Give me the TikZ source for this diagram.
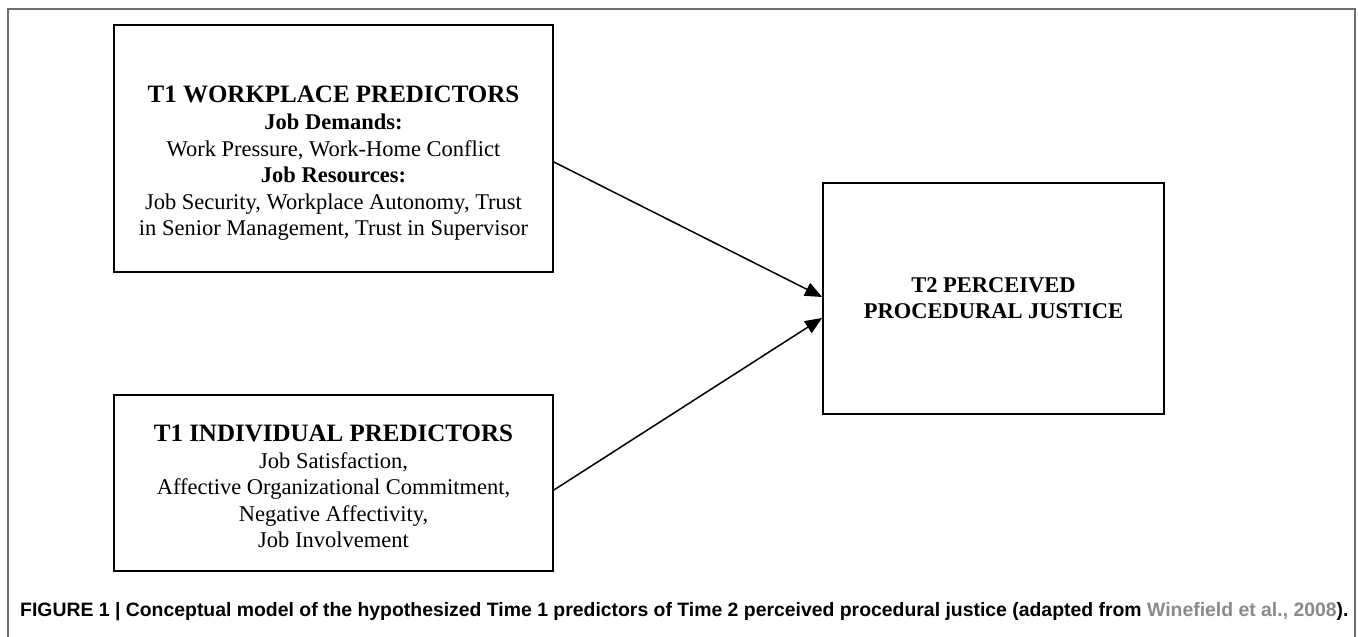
\documentclass[tikz,border=0pt]{standalone}
\usepackage{fontspec}
\setmainfont{Liberation Serif}
\newfontfamily\capfont{Liberation Sans}
\usetikzlibrary{arrows.meta}
\definecolor{framegray}{HTML}{6E6E6E}
\definecolor{linkgray}{HTML}{8A8A8A}
\tikzset{
  boxnode/.style={draw=black, line width=1.8pt, rectangle, inner sep=0pt},
  boxtext/.style={align=center, inner sep=0pt, font=\fontsize{22.5}{26.6}\selectfont},
  link/.style={line width=1.5pt, -{Triangle[length=17pt,width=14pt]}},
}
\begin{document}
\begin{tikzpicture}[x=1pt,y=1pt]
\useasboundingbox (0,0) rectangle (1358,637);
\fill[white] (0,0) rectangle (1358,637);
% outer frame
\draw[framegray, line width=1.6pt] (8,-5) -- (8,628) -- (1355,628) -- (1355,-5);
% boxes
\node[boxnode, minimum width=439pt, minimum height=247pt] (wp) at (333.5,488.5) {};
\node[boxnode, minimum width=439pt, minimum height=176pt] (ip) at (333.5,154) {};
\node[boxnode, minimum width=341pt, minimum height=231pt] (pj) at (993.5,338.5) {};
% texts
\node[boxtext] (wpt) at (333.5,473.5) {{\fontsize{25}{26.6}\selectfont\bfseries T1 WORKPLACE PREDICTORS}\\
  \textbf{Job Demands:}\\
  Work Pressure, Work-Home Conflict\\
  \textbf{Job Resources:}\\
  Job Security, Workplace Autonomy, Trust\\
  in Senior Management, Trust in Supervisor};
\node[boxtext] (ipt) at (333.5,150.5) {{\fontsize{25}{26.6}\selectfont\bfseries T1 INDIVIDUAL PREDICTORS}\\
  Job Satisfaction,\\
  Affective Organizational Commitment,\\
  Negative Affectivity,\\
  Job Involvement};
\node[boxtext, font=\fontsize{22.5}{26.6}\selectfont\bfseries] (pjt) at (993.5,339) {T2 PERCEIVED\\PROCEDURAL JUSTICE};
% arrows
\draw[link] ([yshift=-13.5pt]wp.east) -- ([yshift=1.5pt]pj.west);
\draw[link] ([yshift=-7pt]ip.east) -- ([yshift=-19.5pt]pj.west);
% caption
\node[anchor=west, inner sep=0pt, font=\capfont\bfseries\fontsize{19.4}{22}\selectfont] (cap) at (20,25)
  {FIGURE 1 | Conceptual model of the hypothesized Time 1 predictors of Time 2 perceived procedural justice (adapted from \textcolor{linkgray}{Winefield et al., 2008}).};
\end{tikzpicture}
\end{document}
